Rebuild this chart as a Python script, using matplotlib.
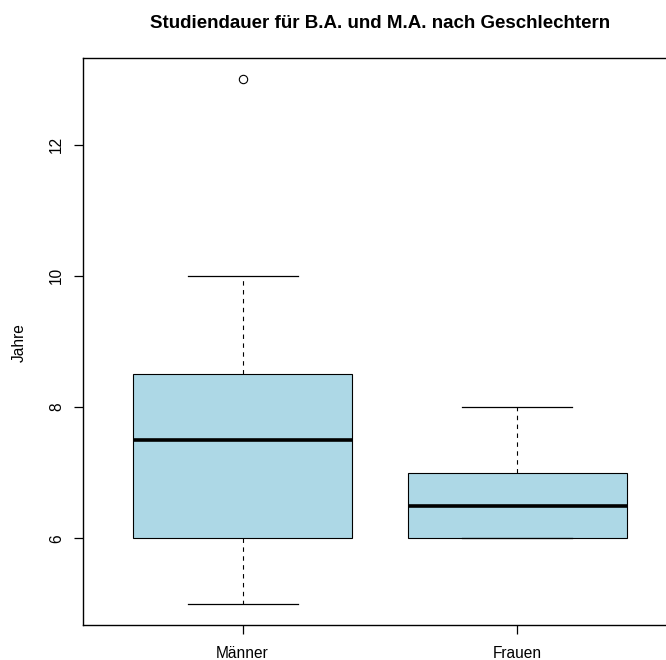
import matplotlib.pyplot as plt

# Studiendauer (Jahre) je Gruppe als Fünf-Punkte-Zusammenfassung
groups = ['Männer', 'Frauen']
whisker_low = [5, 6]
q1 = [6, 6]
median = [7.5, 6.5]
q3 = [8.5, 7]
whisker_high = [10, 8]
outliers = [[13], []]
yticks = [6, 8, 10, 12]

stats = []
for i in range(len(groups)):
    stats.append({'label': groups[i], 'whislo': whisker_low[i], 'q1': q1[i],
                  'med': median[i], 'q3': q3[i], 'whishi': whisker_high[i],
                  'fliers': outliers[i]})

plt.rcParams['font.family'] = ['Liberation Sans', 'DejaVu Sans']
fig = plt.figure(figsize=(6.66, 6.6), dpi=100)
ax = fig.add_axes([83 / 666, 1 - 625 / 660, 594 / 666, 567 / 660])

ax.bxp(stats, positions=[1, 2], widths=0.8, capwidths=0.4, patch_artist=True,
       boxprops=dict(facecolor='#add8e6', edgecolor='black', linewidth=0.8),
       medianprops=dict(color='black', linewidth=2.6, solid_capstyle='butt'),
       whiskerprops=dict(color='black', linewidth=0.8, linestyle=(0, (4, 4))),
       capprops=dict(color='black', linewidth=0.9),
       flierprops=dict(marker='o', markersize=6, markerfacecolor='none',
                       markeredgecolor='black', markeredgewidth=0.8))

ax.set_xlim(0.42, 2.58)
ax.set_ylim(4.68, 13.32)
ax.set_xticks([1, 2])
ax.set_xticklabels(groups)
ax.set_yticks(yticks)
ax.set_yticklabels([str(t) for t in yticks], rotation=90, va='center')
ax.tick_params(axis='both', direction='out', length=6.5, width=0.9,
               labelsize=11.2, color='black')
ax.tick_params(axis='x', pad=8.5)
ax.tick_params(axis='y', pad=7)
for s in ax.spines.values():
    s.set_linewidth(1.0)

fig.text(380 / 666, 1 - 28 / 660, 'Studiendauer für B.A. und M.A. nach Geschlechtern',
         ha='center', va='baseline', fontsize=13.5, fontweight='bold')
fig.text(19 / 666, 1 - 343 / 660, 'Jahre', rotation=90, ha='center', va='center',
         fontsize=11.2)

fig.savefig('out.png', dpi=100)
